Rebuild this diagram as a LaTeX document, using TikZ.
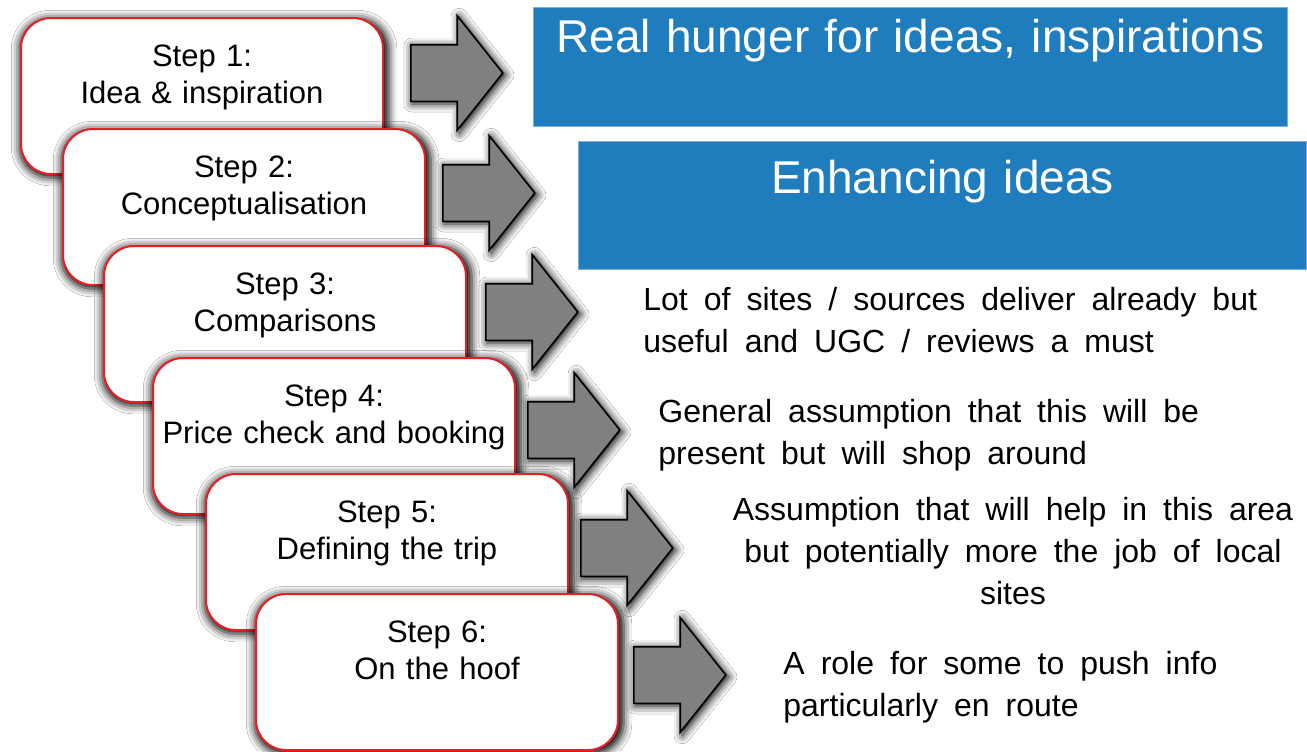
\documentclass[tikz,border=0pt]{standalone}
\usepackage{fontspec}
\setmainfont{Liberation Sans}
\usetikzlibrary{shapes.arrows}
\usetikzlibrary{shadows.blur}
\definecolor{boxred}{RGB}{232,30,36}
\definecolor{arrowgray}{RGB}{128,128,128}
\definecolor{ideablue}{RGB}{31,125,189}
\definecolor{ideaedge}{RGB}{125,175,225}
\newcommand\notefont{\fontsize{16}{21}\selectfont\spaceskip=0.5em plus 0.1em\relax}
\tikzset{
  glow/.style={blur shadow={shadow xshift=1pt, shadow yshift=-1pt, shadow blur radius=4pt,
    shadow scale=1.02, shadow opacity=100}},
  stepbox/.style={draw=boxred, line width=1pt, fill=white, rounded corners=15pt, glow,
    inner sep=0pt, text width=181pt, align=center, text height=24pt, text depth=54pt,
    anchor=north west, font=\fontsize{15.5}{18.5}\selectfont},
  arrowbox/.style={single arrow, draw=black, line width=0.8pt, fill=arrowgray, glow,
    minimum height=46pt, minimum width=56.5pt, single arrow head extend=14.5pt,
    single arrow tip angle=103, inner xsep=0pt, inner ysep=13.75pt, anchor=tail},
  bluebox/.style={fill=ideablue, draw=ideaedge, line width=0.5pt, text=white, inner sep=0pt,
    anchor=north west, align=center, font=\fontsize{23}{27}\selectfont},
  note/.style={inner sep=0pt, font=\notefont}
}

\begin{document}
\begin{tikzpicture}[x=0.5pt,y=-0.5pt]
        \path[use as bounding box, fill=white] (0,0) rectangle (1307,751);
        \node[stepbox] (s1) at (20,17) {Step 1:\\Idea \& inspiration};
        \node[arrowbox] (a1) at (410,73) {};
        \node[stepbox] (s2) at (62,128) {Step 2:\\Conceptualisation};
        \node[arrowbox] (a2) at (442,193) {};
        \node[stepbox] (s3) at (103,245) {Step 3:\\Comparisons};
        \node[arrowbox] (a3) at (485,312) {};
        \node[stepbox] (s4) at (152,357) {Step 4:\\Price check and booking};
        \node[arrowbox] (a4) at (527,430) {};
        \node[stepbox] (s5) at (205,473) {Step 5:\\Defining the trip};
        \node[arrowbox] (a5) at (580,548) {};
        \node[stepbox] (s6) at (255,593) {Step 6:\\On the hoof};
        \node[arrowbox] (a6) at (633,675) {};
        \node[bluebox, text width=377pt, text height=22.5pt, text depth=37pt] (t1) at (533,7)
            {Real hunger for ideas, inspirations};
        \node[bluebox, text width=364pt, text height=26pt, text depth=38pt] (t2) at (578,141)
            {Enhancing ideas};
        \node[note, anchor=base west, align=left] (t3) at (643,352)
            {Lot of sites / sources deliver already but\\useful and UGC / reviews a must};
        \node[note, anchor=base west, align=left] (t4) at (658,464)
            {General assumption that this will be\\present but will shop around};
        \node[note, anchor=base, align=center] (t5) at (1013,604)
            {Assumption that will help in this area\\but potentially more the job of local\\sites};
        \node[note, anchor=base west, align=left] (t6) at (783,716)
            {A role for some to push info\\particularly en route};
    \end{tikzpicture}
\end{document}
